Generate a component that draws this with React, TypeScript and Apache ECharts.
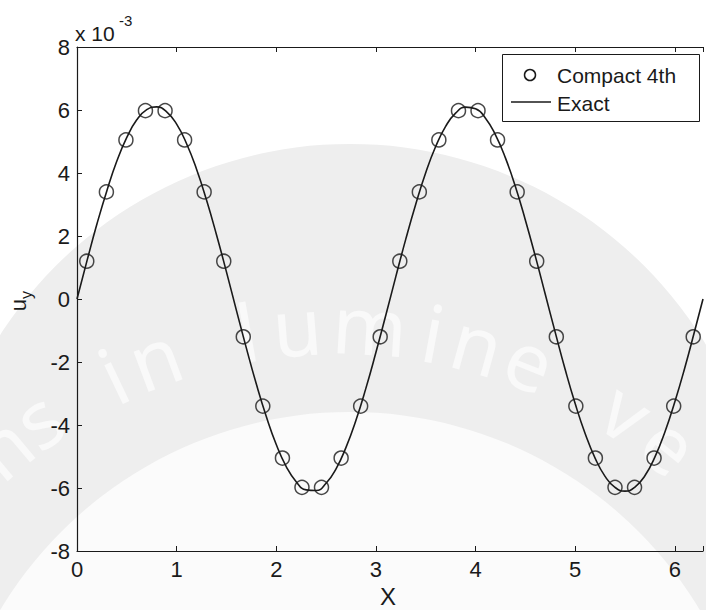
import React, { useEffect, useRef } from "react";
import * as echarts from "echarts";

// Tick values
const xTicks = [0, 1, 2, 3, 4, 5, 6];
const yTicks = [-8, -6, -4, -2, 0, 2, 4, 6, 8];

// "Compact 4th" markers (values in units of 1e-3)
const compactX = [0.098, 0.295, 0.491, 0.687, 0.884, 1.08, 1.276, 1.473, 1.669, 1.865, 2.062, 2.258, 2.454, 2.651, 2.847, 3.043,
  3.24, 3.436, 3.632, 3.829, 4.025, 4.221, 4.418, 4.614, 4.811, 5.007, 5.203, 5.4, 5.596, 5.792, 5.989, 6.185];
const compactY = [1.2, 3.4, 5.05, 5.98, 5.98, 5.05, 3.4, 1.2, -1.2, -3.4, -5.05, -5.98, -5.98, -5.05, -3.4, -1.2,
  1.2, 3.4, 5.05, 5.98, 5.98, 5.05, 3.4, 1.2, -1.2, -3.4, -5.05, -5.98, -5.98, -5.05, -3.4, -1.2];

// "Exact" curve (values in units of 1e-3)
const exactX = [0, 0.1, 0.2, 0.3, 0.4, 0.5, 0.6, 0.7, 0.8, 0.9, 1.0, 1.1, 1.2, 1.3, 1.4, 1.5, 1.6, 1.7, 1.8, 1.9, 2.0,
  2.1, 2.2, 2.3, 2.4, 2.5, 2.6, 2.7, 2.8, 2.9, 3.0, 3.1, 3.2, 3.3, 3.4, 3.5, 3.6, 3.7, 3.8, 3.9, 4.0, 4.1, 4.2,
  4.3, 4.4, 4.5, 4.6, 4.7, 4.8, 4.9, 5.0, 5.1, 5.2, 5.3, 5.4, 5.5, 5.6, 5.7, 5.8, 5.9, 6.0, 6.1, 6.2, 6.2832];
const exactY = [0, 1.21, 2.38, 3.44, 4.38, 5.13, 5.69, 6.01, 6.1, 5.94, 5.55, 4.93, 4.12, 3.14, 2.04, 0.86, -0.36,
  -1.56, -2.7, -3.73, -4.62, -5.32, -5.8, -6.06, -6.08, -5.85, -5.39, -4.71, -3.85, -2.83, -1.7, -0.51, 0.71,
  1.9, 3.01, 4.01, 4.84, 5.48, 5.9, 6.09, 6.04, 5.74, 5.21, 4.48, 3.57, 2.51, 1.36, 0.15, -1.06, -2.24, -3.32,
  -4.27, -5.05, -5.63, -5.98, -6.1, -5.97, -5.61, -5.02, -4.23, -3.27, -2.19, -1.01, 0];

const legendNames = ["Compact 4th", "Exact"];
const xName = "X";
const yNameMain = "u";
const yNameSub = "y";
const scaleBase = "x 10";
const scaleExp = "-3";
// faint background watermark letters and their angle (deg) along an arc
const watermarkLetters = ["n", "s", "i", "n", "l", "u", "m", "i", "n", "e", "v", "e"];
const watermarkAngles = [-40, -35, -25.5, -20.5, -10, -4.5, 3.5, 10.5, 15.5, 21.5, 33.5, 39.5];

const FONT = "'Liberation Sans', Arial, Helvetica, sans-serif";
const INK = "#1a1a1a";

export default function App() {
  const ref = useRef<HTMLDivElement>(null);
  useEffect(() => {
    if (!ref.current) return;
    const chart = echarts.init(ref.current, undefined, { renderer: "svg" });
    const xMin = xTicks[0];
    const xMax = 6.2832;
    const yMin = yTicks[0];
    const yMax = yTicks[yTicks.length - 1];
    const fmt = (v: number) => (Number.isInteger(v) ? String(v) : "");
    const arcCx = 338, arcCy = 847, arcR = 524;
    const wm = watermarkLetters.map((ch, i) => {
      const t = (watermarkAngles[i] * Math.PI) / 180;
      return {
        type: "text",
        x: arcCx + arcR * Math.sin(t),
        y: arcCy - arcR * Math.cos(t),
        rotation: -t,
        z: -10,
        style: { text: ch, fontFamily: "'Noto Sans', 'Open Sans', sans-serif", fontSize: 80, fill: "#f9f9f9", align: "center", verticalAlign: "middle" },
      };
    });
    chart.setOption({
      animation: false,
      backgroundColor: "#ffffff",
      textStyle: { fontFamily: FONT },
      grid: { left: 77, top: 47, bottom: 59, right: -5.6, containLabel: false },
      xAxis: [
        {
          type: "value", min: xMin, max: xMax, interval: 1, position: "bottom",
          axisLine: { show: true, onZero: false, lineStyle: { color: INK, width: 1.2 } },
          axisTick: { show: true, inside: true, length: 5, lineStyle: { color: INK } },
          axisLabel: { show: true, margin: 7, fontSize: 22, color: INK, fontFamily: FONT, formatter: fmt },
          splitLine: { show: false },
        },
        {
          type: "value", min: xMin, max: xMax, interval: 1, position: "top",
          axisLine: { show: true, onZero: false, lineStyle: { color: INK, width: 1.2 } },
          axisTick: { show: true, inside: true, length: 5, lineStyle: { color: INK } },
          axisLabel: { show: false },
          splitLine: { show: false },
        },
      ],
      yAxis: [
        {
          type: "value", min: yMin, max: yMax, interval: 2, position: "left",
          axisLine: { show: true, onZero: false, lineStyle: { color: INK, width: 1.2 } },
          axisTick: { show: true, inside: true, length: 5, lineStyle: { color: INK } },
          axisLabel: { show: true, margin: 7, fontSize: 22, color: INK, fontFamily: FONT, formatter: fmt },
          splitLine: { show: false },
        },
      ],
      series: [
        {
          name: legendNames[1], type: "line", smooth: true, showSymbol: false, symbol: "none",
          data: exactX.map((x, i) => [x, exactY[i]]),
          lineStyle: { color: INK, width: 1.6 }, z: 3,
        },
        {
          name: legendNames[0], type: "scatter", symbol: "circle", symbolSize: 14,
          data: compactX.map((x, i) => [x, compactY[i]]),
          itemStyle: { color: "rgba(0,0,0,0)", borderColor: INK, borderWidth: 1.5 }, z: 4,
        },
      ],
      graphic: [
        // faint watermark
        { type: "circle", z: -20, shape: { cx: 350, cy: 560, r: 416 }, style: { fill: "#eeeeee" } },
        { type: "circle", z: -19, shape: { cx: 350, cy: 820, r: 408 }, style: { fill: "#fbfbfb" } },
        ...wm,
        // scale exponent label
        { type: "text", x: 75, y: 33, z: 50, style: { text: scaleBase, fontFamily: FONT, fontSize: 21, fill: INK, align: "left", verticalAlign: "middle" } },
        { type: "text", x: 119, y: 20, z: 50, style: { text: scaleExp, fontFamily: FONT, fontSize: 15, fill: INK, align: "left", verticalAlign: "middle" } },
        // axis names
        { type: "text", x: 388, y: 596, z: 50, style: { text: xName, fontFamily: FONT, fontSize: 24, fill: INK, align: "center", verticalAlign: "middle" } },
        { type: "text", x: 18, y: 305, rotation: Math.PI / 2, z: 50, style: { text: yNameMain, fontFamily: FONT, fontSize: 22, fill: INK, align: "center", verticalAlign: "middle" } },
        { type: "text", x: 26, y: 295, rotation: Math.PI / 2, z: 50, style: { text: yNameSub, fontFamily: FONT, fontSize: 16, fill: INK, align: "center", verticalAlign: "middle" } },
        // legend
        { type: "rect", z: 100, shape: { x: 502.5, y: 54.5, width: 197, height: 67 }, style: { fill: "#ffffff", stroke: INK, lineWidth: 1 } },
        { type: "circle", z: 101, shape: { cx: 530, cy: 75, r: 5.5 }, style: { fill: "none", stroke: INK, lineWidth: 1.5 } },
        { type: "line", z: 101, shape: { x1: 511, y1: 102, x2: 551, y2: 102 }, style: { stroke: INK, lineWidth: 1.5 } },
        { type: "text", x: 557, y: 75, z: 101, style: { text: legendNames[0], fontFamily: FONT, fontSize: 21, fill: INK, align: "left", verticalAlign: "middle" } },
        { type: "text", x: 557, y: 103, z: 101, style: { text: legendNames[1], fontFamily: FONT, fontSize: 21, fill: INK, align: "left", verticalAlign: "middle" } },
      ],
    });
    return () => chart.dispose();
  }, []);
  return <div ref={ref} style={{ position: "fixed", left: 0, top: 0, width: 706, height: 610 }} />;
}
